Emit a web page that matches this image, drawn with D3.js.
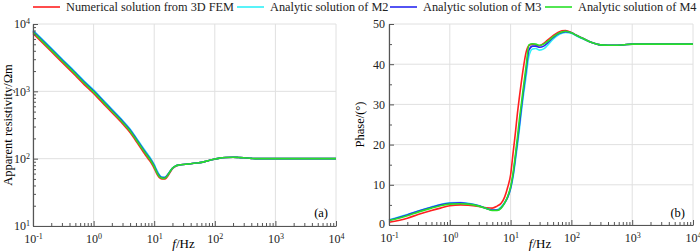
<!DOCTYPE html>
<html>
<head>
<meta charset="utf-8">
<script src="https://cdn.jsdelivr.net/npm/d3@7"></script>
<style>
  body { margin: 0; background: #fff; }
  svg { display: block; font-family: "Liberation Serif", "Times New Roman", serif; }
</style>
</head>
<body>
<div class="chart"></div>
<script>
// frequencies (Hz)
const freq = [0.1,0.2,0.3,0.5,0.7,1,1.5,2,3,4,5,6,7,8,9,10,11,12,13,14,15,16,18,20,23,26,30,35,40,50,60,70,80,100,120,150,200,250,300,400,500,700,1000,2000,5000,10000]

// apparent resistivity (Ohm m)
const rhoFEM = [7250,3900,2700,1720,1260,930,635,485,330,245,183,144,117,99,85,72,60,53,50.5,50,50,52,61,71,78,80.5,82,83,84,86,88,91,94,99,102,104,105,104,103,101,100,100,100,100,100,100]
const rhoM2  = [8100,4400,3050,1940,1420,1050,715,545,372,276,207,163,133,113,97,82,68,59,54,53,53,55,64,72.5,78.5,80.5,82,83,84,86,88,91,94,99,102,104,105,104,103,101,100,100,100,100,100,100]
const rhoM3  = [7850,4250,2950,1880,1375,1015,690,528,360,267,200,157,128,109,93,79,65,57,53,52.5,52.5,55,63.5,72,78.5,80.5,82,83,84,86,88,91,94,99,102,104,105,104,103,101,100,100,100,100,100,100]
const rhoM4  = [7600,4100,2850,1815,1330,980,668,510,348,258,193,152,124,105,90,76,63,55,52,51,51.3,54,63,72,78.5,80.5,82,83,84,86,88,91,94,99,102,104,105,104,103,101,100,100,100,100,100,100]

// phase (degrees)
const phFEM = [0.7,1.7,2.6,3.6,4.2,4.8,5.0,4.9,4.6,4.3,4.2,4.7,5.4,7.0,9.5,12.5,18,23,28,32,35.5,38.5,43,44.6,45,44.8,44.6,45.2,45.9,47.1,47.9,48.3,48.4,47.9,47.2,46.5,45.6,45.1,44.8,44.7,44.7,44.8,45,45,45,45]
const phM2  = [1.3,2.6,3.5,4.5,5.1,5.5,5.6,5.4,4.8,4.1,3.7,3.8,4.5,5.6,7.0,9.0,12,16,20,24,28,31.5,37,42,43.8,43.9,43.5,43.8,44.6,46.2,47.2,47.7,47.9,47.7,47.1,46.4,45.6,45.1,44.8,44.7,44.7,44.8,45,45,45,45]
const phM3  = [1.2,2.5,3.4,4.4,5.0,5.4,5.5,5.3,4.8,4.1,3.7,3.7,4.3,5.5,7.0,9.2,12.5,16.8,21,25,29,32.5,38.5,43.5,44.5,44.5,44.2,44.5,45.2,46.6,47.5,47.9,48.1,47.8,47.2,46.5,45.6,45.1,44.8,44.7,44.7,44.8,45,45,45,45]
const phM4  = [1.1,2.3,3.2,4.2,4.8,5.2,5.3,5.2,4.7,4.1,3.6,3.6,4.2,5.5,7.2,9.5,13,17.5,22,26.5,30,33.5,39.5,44.8,45.1,45,44.7,45,45.6,46.8,47.6,48,48.2,47.8,47.2,46.5,45.6,45.1,44.8,44.7,44.7,44.8,45,45,45,45]

const seriesNames = ['Numerical solution from 3D FEM','Analytic solution of M2','Analytic solution of M3','Analytic solution of M4']
const seriesColors = ['#ff2020','#30f0f8','#2828f0','#28e028']
const xTicks = [0.1,1,10,100,1000,10000]
const rhoTicks = [10,100,1000,10000]
const phaseTicks = [0,10,20,30,40,50]

const width = 700, height = 252
const gridColor = '#e0e0e0', axisColor = '#555'

let svg = d3.select('.chart').append('svg')
    .attr('width', width)
    .attr('height', height)

// minor tick values for log axes
function logMinor(lo, hi) {
    let out = []
    for (let e = Math.log10(lo); e < Math.log10(hi); e++) {
        for (let k = 2; k <= 9; k++) out.push(k * Math.pow(10, e))
    }
    return out
}

function powLabel(sel) {
    sel.each(function(d) {
        let t = d3.select(this)
        t.text('')
        t.append('tspan').text('10')
        t.append('tspan').attr('dy', '-0.5em').attr('font-size', '8px')
            .text(Math.round(Math.log10(d)))
    })
}

function drawPanel(opt) {
    let x = d3.scaleLog().domain([0.1, 10000]).range(opt.xr)
    let y = opt.y
    let g = svg.append('g')

    // grid
    g.append('g').selectAll('line').data(xTicks).join('line')
        .attr('x1', d => x(d)).attr('x2', d => x(d))
        .attr('y1', y.range()[0]).attr('y2', y.range()[1])
        .attr('stroke', gridColor)
    g.append('g').selectAll('line').data(opt.yTicks).join('line')
        .attr('x1', opt.xr[0]).attr('x2', opt.xr[1])
        .attr('y1', d => y(d)).attr('y2', d => y(d))
        .attr('stroke', gridColor)

    // curves
    let line = d3.line()
        .x((d, i) => x(freq[i]))
        .y(d => y(d))
        .curve(d3.curveMonotoneX)
    g.append('g').selectAll('path').data(opt.series).join('path')
        .attr('d', line)
        .attr('fill', 'none')
        .attr('stroke', (d, i) => seriesColors[i])
        .attr('stroke-width', 1.6)

    // x axis
    let xAxis = g.append('g').attr('transform', `translate(0,${y.range()[0]})`)
    xAxis.call(d3.axisBottom(x).tickValues(logMinor(0.1, 10000)).tickSize(-3).tickFormat('').tickSizeOuter(0))
    xAxis.selectAll('text').remove()
    let xMajor = xAxis.append('g').call(d3.axisBottom(x).tickValues(xTicks).tickSize(-5).tickPadding(8).tickSizeOuter(0))
    xMajor.select('.domain').remove()
    xMajor.selectAll('text').attr('font-size', 12).attr('fill', '#222')
        .attr('font-family', '"Liberation Serif", serif').call(powLabel)
    xAxis.selectAll('line').attr('stroke', axisColor)
    xAxis.select('.domain').attr('stroke', axisColor).attr('stroke-width', 1.2)

    // y axis
    let yAxis = g.append('g').attr('transform', `translate(${opt.xr[0]},0)`)
    yAxis.call(d3.axisLeft(y).tickValues(opt.minorY).tickSize(-3).tickFormat('').tickSizeOuter(0))
    yAxis.selectAll('text').remove()
    let yMajor = yAxis.append('g').call(d3.axisLeft(y).tickValues(opt.yTicks).tickSize(-5).tickPadding(opt.logY ? 3 : 4).tickSizeOuter(0))
    yMajor.select('.domain').remove()
    yMajor.selectAll('text').attr('font-size', 12).attr('fill', '#222')
        .attr('font-family', '"Liberation Serif", serif')
    if (opt.logY) yMajor.selectAll('text').call(powLabel)
    else yMajor.selectAll('text').attr('dy', d => d === 0 ? '0.2em' : '0.32em')
    yAxis.selectAll('line').attr('stroke', axisColor)
    yAxis.select('.domain').attr('stroke', axisColor).attr('stroke-width', 1.2)

    // titles
    let xt = g.append('text')
        .attr('x', (opt.xr[0] + opt.xr[1]) / 2 - 1)
        .attr('y', 248)
        .attr('text-anchor', 'middle')
        .attr('font-size', 13)
    xt.append('tspan').attr('font-style', 'italic').text('f')
    xt.append('tspan').text('/Hz')

    g.append('text')
        .attr('transform', `translate(${opt.titleX},${(y.range()[0] + y.range()[1]) / 2}) rotate(-90)`)
        .attr('text-anchor', 'middle')
        .attr('font-size', 12.5)
        .text(opt.yTitle)

    g.append('text')
        .attr('x', opt.xr[1] - 8)
        .attr('y', 217)
        .attr('text-anchor', 'end')
        .attr('font-size', 12.5)
        .text(opt.tag)
}

drawPanel({
    xr: [33, 336],
    y: d3.scaleLog().domain([10, 10000]).range([226, 24]),
    yTicks: rhoTicks,
    minorY: logMinor(10, 10000),
    logY: true,
    series: [rhoFEM, rhoM2, rhoM3, rhoM4],
    yTitle: 'Apparent resistivity/Ωm',
    titleX: 12,
    tag: '(a)'
})

drawPanel({
    xr: [389, 693],
    y: d3.scaleLinear().domain([0, 50]).range([225, 24]),
    yTicks: phaseTicks,
    minorY: [5, 15, 25, 35, 45],
    logY: false,
    series: [phFEM, phM2, phM3, phM4],
    yTitle: 'Phase/(°)',
    titleX: 364,
    tag: '(b)'
})

// legend
let legendX = [33, 237, 390, 545]
let legend = svg.append('g').selectAll('g').data(seriesNames).join('g')
    .attr('transform', (d, i) => `translate(${legendX[i]},7)`)
legend.append('line')
    .attr('x1', 0).attr('x2', 27)
    .attr('stroke', (d, i) => seriesColors[i])
    .attr('stroke-width', 1.6)
legend.append('text')
    .attr('x', 33)
    .attr('dy', '0.35em')
    .attr('font-size', 12.3)
    .attr('fill', '#222')
    .text(d => d)
</script>
</body>
</html>
